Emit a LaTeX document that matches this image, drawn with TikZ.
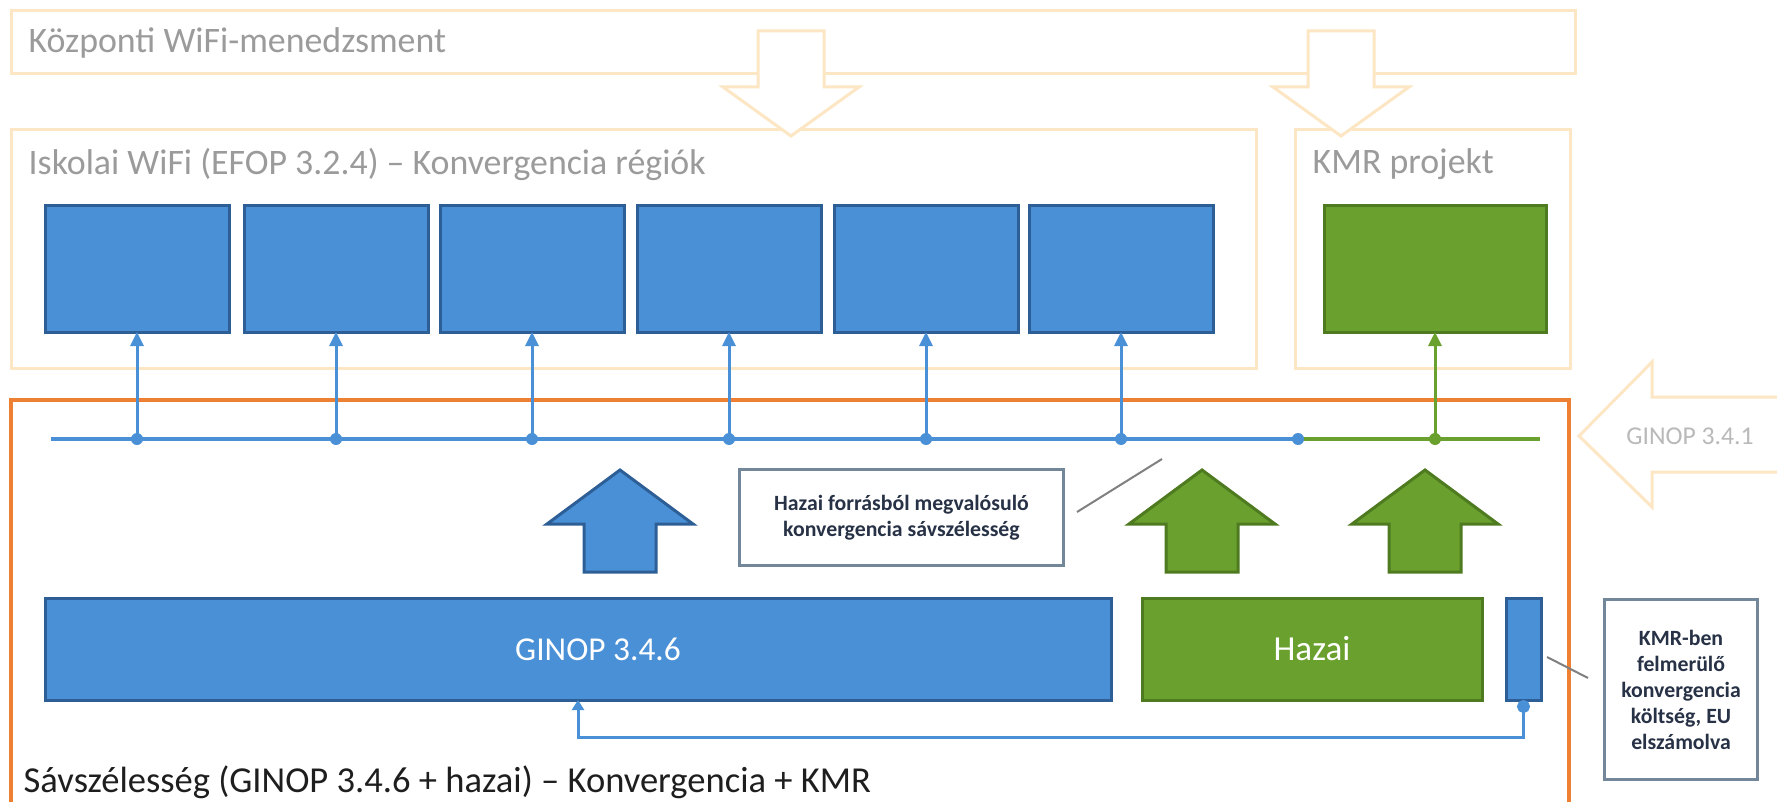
\documentclass[tikz,border=0pt]{standalone}
\usepackage{fontspec}
\setmainfont{Carlito}
\usetikzlibrary{arrows.meta}

\definecolor{wblue}{RGB}{74,144,214}
\definecolor{wblueedge}{RGB}{45,95,150}
\definecolor{wgreen}{RGB}{106,160,46}
\definecolor{wgreenedge}{RGB}{78,122,32}
\definecolor{pale}{RGB}{253,230,195}
\definecolor{frameorange}{RGB}{238,128,52}
\definecolor{hdrgray}{RGB}{155,155,155}
\definecolor{notegray}{RGB}{115,135,155}

\begin{document}
\begin{tikzpicture}[x=0.1mm,y=-0.1mm,
  palebox/.style={draw=pale,line width=0.3mm,inner sep=0pt,outer sep=0pt,anchor=north west},
  hdr/.style={anchor=west,inner sep=0pt,text=hdrgray,font=\fontsize{10.2}{12}\selectfont},
  site/.style={draw=wblueedge,fill=wblue,line width=0.3mm,inner sep=0pt,outer sep=0pt,
    minimum width=18.4mm,minimum height=12.6mm,anchor=north west},
  feed/.style={line width=0.3mm,-{Triangle[length=1.4mm,width=1.3mm]}},
  bar/.style={line width=0.3mm,inner sep=0pt,outer sep=0pt,minimum height=10.2mm,
    anchor=north west,text=white,font=\fontsize{9.5}{11}\selectfont},
  note/.style={draw=notegray,fill=white,line width=0.3mm,inner sep=0pt,anchor=north west,
    align=center,text={rgb,255:red,40;green,50;blue,70},font=\bfseries\fontsize{6.2}{7.4}\selectfont},
  leader/.style={draw=gray,line width=0.2mm}]
  \clip (0,0) rectangle (1777,802);
  \fill[white] (0,0) rectangle (1777,802);

  \node[palebox,minimum width=156.4mm,minimum height=6.3mm] (mgmt) at (11,11) {};
  \node[hdr] (mgmtlbl) at (28,43) {Központi WiFi-menedzsment};
  \node[palebox,minimum width=124.5mm,minimum height=23.8mm] (school) at (11,130) {};
  \node[hdr] (schoollbl) at (28,164) {Iskolai WiFi (EFOP 3.2.4) – Konvergencia régiók};
  \node[palebox,minimum width=27.5mm,minimum height=23.8mm] (kmrproj) at (1295,130) {};
  \node[hdr] (kmrprojlbl) at (1312,164) {KMR projekt};

  \foreach \cx in {791,1341}
    \draw[draw=pale,line width=0.3mm,fill=white,shift={(\cx,0)}]
      (-33,31) -- (33,31) -- (33,87) -- (68,87) -- (0,136) -- (-68,87) -- (-33,87) -- cycle;

  \foreach \x [count=\i] in {45,244,440,637,834,1029}
    \node[site] (s\i) at (\x,206) {};
  \node[site,draw=wgreenedge,fill=wgreen,minimum width=22.2mm] (kmr) at (1324,206) {};

  \draw[frameorange,line width=0.35mm] (11,830) -- (11,400) -- (1569,400) -- (1569,830);

  \coordinate (busw) at (51,439);
  \coordinate (busm) at (1298,439);
  \coordinate (buse) at (1540,439);
  \draw[wblue,line width=0.4mm] (busw) -- (busm);
  \draw[wgreen,line width=0.4mm] (busm) -- (buse);
  \foreach \i in {1,...,6} {
    \draw[feed,wblue] (s\i.south |- busw) -- (s\i.south);
    \fill[wblue] (s\i.south |- busw) circle (0.6mm);
  }
  \draw[feed,wgreen] (kmr.south |- busw) -- (kmr.south);
  \fill[wgreen] (kmr.south |- busw) circle (0.6mm);
  \fill[wblue] (busm) circle (0.6mm);

  \draw[draw=pale,line width=0.3mm,fill=white]
    (1790,397) -- (1652,397) -- (1652,362) -- (1579,436) -- (1652,507) -- (1652,472) -- (1790,472);
  \node[font=\fontsize{7.3}{9}\selectfont,text={rgb,255:red,185;green,185;blue,185}] (g341) at (1690,436) {GINOP 3.4.1};

  \foreach \cx/\fc/\dc in {620/wblue/wblueedge,1202/wgreen/wgreenedge,1425/wgreen/wgreenedge}
    \draw[fill=\fc,draw=\dc,line width=0.3mm,shift={(\cx,0)}]
      (0,470) -- (73,524) -- (36,524) -- (36,572) -- (-36,572) -- (-36,524) -- (-73,524) -- cycle;

  \node[note,minimum width=32.4mm,minimum height=9.6mm] (hnote) at (738,468)
    {Hazai forrásból megvalósuló\\konvergencia sávszélesség};
  \coordinate (hl1) at (1077,512);
  \coordinate (hl2) at (1162,459);
  \draw[leader] (hl1) -- (hl2);

  \node[bar,fill=wblue,draw=wblueedge,minimum width=106.6mm] (ginop) at (45,598) {\hspace{4mm}GINOP 3.4.6};
  \node[bar,fill=wgreen,draw=wgreenedge,minimum width=34mm,font=\fontsize{10}{12}\selectfont] (hazai) at (1142,598) {Hazai};
  \node[bar,fill=wblue,draw=wblueedge,minimum width=3.5mm] (kmrbar) at (1506,598) {};
  \draw[wblue,line width=0.3mm,{Triangle[length=1mm,width=1.2mm]}-{Circle[length=1.3mm]}]
    (ginop.south) -- ++(0,37) -| (kmrbar.south);

  \node[note,minimum width=15.3mm,minimum height=18mm] (kmrnote) at (1603,598)
    {KMR-ben\\felmerülő\\konvergencia\\költség, EU\\elszámolva};
  \coordinate (kl1) at (1547,657);
  \coordinate (kl2) at (1588,678);
  \draw[leader] (kl1) -- (kl2);

  \node[anchor=west,inner sep=0pt,font=\fontsize{10.4}{12}\selectfont,text={rgb,255:red,30;green,30;blue,30}] (bwlbl) at (23,782)
    {Sávszélesség (GINOP 3.4.6 + hazai) – Konvergencia + KMR};
\end{tikzpicture}
\end{document}
